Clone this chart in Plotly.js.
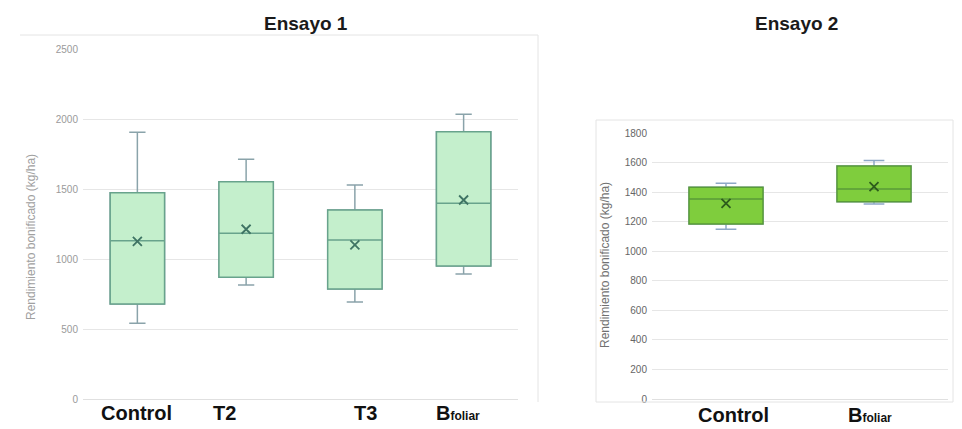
<!DOCTYPE html>
<html>
<head>
<meta charset="utf-8">
<script src="https://cdn.plot.ly/plotly-3.0.1.min.js"></script>
<style>html,body{margin:0;padding:0;background:#fff}</style>
</head>
<body>
<div id="chart" style="width:962px;height:429px"></div>
<script>
// Ensayo 1: yield statistics per treatment (kg/ha)
const cats1 = ['Control', 'T2', 'T3', 'Bfoliar'];
const labels1 = ['Control', 'T2', 'T3', 'B<span style="font-size:12px">foliar</span>'];
const min1 = [544, 818, 696, 896];
const q1_1 = [682, 873, 789, 954];
const med1 = [1134, 1187, 1139, 1401];
const q3_1 = [1477, 1556, 1354, 1913];
const max1 = [1909, 1716, 1532, 2037];
const mean1 = [1130, 1216, 1104, 1425];
const yTicks1 = [0, 500, 1000, 1500, 2000, 2500];

// Ensayo 2
const cats2 = ['Control', 'Bfoliar'];
const labels2 = ['Control', 'B<span style="font-size:12px">foliar</span>'];
const min2 = [1150, 1321];
const q1_2 = [1186, 1337];
const med2 = [1355, 1423];
const q3_2 = [1434, 1579];
const max2 = [1461, 1615];
const mean2 = [1326, 1439];
const yTicks2 = [0, 200, 400, 600, 800, 1000, 1200, 1400, 1600, 1800];

const titles = ['Ensayo 1', 'Ensayo 2'];
const yTitle = 'Rendimiento bonificado (kg/ha)';

// page geometry (pixels)
const W = 962, H = 429;
const px = v => v / W;
const py = v => 1 - v / H;
const plot1 = {x0: 83, x1: 518, y0: 49.5, y1: 399.5};
const plot2 = {x0: 652, x1: 948, y0: 133.3, y1: 399};
// horizontal nudge of each category label, in pixels
const labelNudge1 = [-1, -22, 11, -6];
const labelNudge2 = [7, -4];

const green1 = {fill: '#c4efcc', line: '#68a38c', whisker: '#8aa3aa', mean: '#3f7464'};
const green2 = {fill: '#7fcd3d', line: '#5a9b38', whisker: '#8ea8c6', mean: '#2d5c1c'};

// whiskers: full box drawn in whisker colour
function whiskerTrace(cats, lo, q1, med, q3, hi, col, xa, ya, ww) {
  return {
    type: 'box', x: cats, lowerfence: lo, q1: q1, median: med, q3: q3, upperfence: hi,
    xaxis: xa, yaxis: ya, boxpoints: false, width: 0.5, whiskerwidth: ww,
    fillcolor: col.fill, line: {color: col.whisker, width: 1.5},
    hoverinfo: 'skip', showlegend: false
  };
}
// box body on top, fences at the quartiles so only the box shows
function bodyTrace(cats, q1, med, q3, col, xa, ya) {
  return {
    type: 'box', x: cats, lowerfence: q1, q1: q1, median: med, q3: q3, upperfence: q3,
    xaxis: xa, yaxis: ya, boxpoints: false, width: 0.5, whiskerwidth: 0,
    fillcolor: col.fill, line: {color: col.line, width: 1.5},
    hoverinfo: 'skip', showlegend: false
  };
}
function meanTrace(cats, mean, col, xa, ya) {
  return {
    type: 'scatter', mode: 'markers', x: cats, y: mean, xaxis: xa, yaxis: ya,
    marker: {symbol: 'x-thin', size: 9, line: {width: 1.8, color: col.mean}, color: col.mean},
    hoverinfo: 'skip', showlegend: false
  };
}

const data = [
  whiskerTrace(cats1, min1, q1_1, med1, q3_1, max1, green1, 'x', 'y', 0.3),
  bodyTrace(cats1, q1_1, med1, q3_1, green1, 'x', 'y'),
  meanTrace(cats1, mean1, green1, 'x', 'y'),
  whiskerTrace(cats2, min2, q1_2, med2, q3_2, max2, green2, 'x2', 'y2', 0.28),
  bodyTrace(cats2, q1_2, med2, q3_2, green2, 'x2', 'y2'),
  meanTrace(cats2, mean2, green2, 'x2', 'y2')
];

function catLabels(labels, plot, nudge, yPix) {
  const n = labels.length, w = plot.x1 - plot.x0;
  return labels.map((t, i) => ({
    text: t, xref: 'paper', yref: 'paper',
    x: px(plot.x0 + (i + 0.5) * w / n + nudge[i]), y: py(yPix),
    xanchor: 'center', yanchor: 'middle', showarrow: false,
    font: {family: 'Liberation Sans, Arial, sans-serif', size: 20, color: '#111', weight: 'bold'}
  }));
}

const annotations = [
  ...catLabels(labels1, plot1, labelNudge1, 413),
  ...catLabels(labels2, plot2, labelNudge2, 415),
  {text: '<b>' + titles[0] + '</b>', xref: 'paper', yref: 'paper', x: px(306), y: py(24),
   xanchor: 'center', yanchor: 'middle', showarrow: false,
   font: {family: 'Liberation Sans, Arial, sans-serif', size: 19, color: '#1a1a1a'}},
  {text: '<b>' + titles[1] + '</b>', xref: 'paper', yref: 'paper', x: px(796), y: py(24),
   xanchor: 'center', yanchor: 'middle', showarrow: false,
   font: {family: 'Liberation Sans, Arial, sans-serif', size: 19, color: '#1a1a1a'}},
  {text: yTitle, xref: 'paper', yref: 'paper', x: px(31), y: py(237), textangle: -90,
   xanchor: 'center', yanchor: 'middle', showarrow: false,
   font: {family: 'Liberation Sans, Arial, sans-serif', size: 12, color: '#a0a0a0'}},
  {text: yTitle, xref: 'paper', yref: 'paper', x: px(605), y: py(265), textangle: -90,
   xanchor: 'center', yanchor: 'middle', showarrow: false,
   font: {family: 'Liberation Sans, Arial, sans-serif', size: 12, color: '#707070'}}
];

// light chart-area frames
const frameCol = '#e4e4e4';
const shapes = [
  {type: 'line', xref: 'paper', yref: 'paper', x0: px(20), x1: px(538), y0: py(35), y1: py(35), line: {color: frameCol, width: 1}},
  {type: 'line', xref: 'paper', yref: 'paper', x0: px(538), x1: px(538), y0: py(35), y1: py(402), line: {color: frameCol, width: 1}},
  {type: 'rect', xref: 'paper', yref: 'paper', x0: px(596), x1: px(953), y0: py(120), y1: py(402), line: {color: frameCol, width: 1}}
];

const yAxisBase = {
  showline: false, ticks: '', gridcolor: '#e6e6e6', gridwidth: 1,
  zeroline: true, zerolinecolor: '#e0e0e0', zerolinewidth: 1, fixedrange: true,
  ticklabelstandoff: 4
};

const layout = {
  width: W, height: H, autosize: false,
  margin: {l: 0, r: 0, t: 0, b: 0},
  paper_bgcolor: '#ffffff', plot_bgcolor: '#ffffff',
  showlegend: false, boxmode: 'overlay',
  xaxis: {domain: [px(plot1.x0), px(plot1.x1)], anchor: 'y', type: 'category',
          categoryarray: cats1, range: [-0.5, cats1.length - 0.5],
          showticklabels: false, showgrid: false, zeroline: false, showline: false, ticks: '', fixedrange: true},
  yaxis: Object.assign({}, yAxisBase, {
    domain: [py(plot1.y1), py(plot1.y0)], anchor: 'x',
    range: [0, 2500], tickvals: yTicks1, ticktext: yTicks1.map(String),
    tickfont: {family: 'Liberation Sans, Arial, sans-serif', size: 10, color: '#9a9a9a'}
  }),
  xaxis2: {domain: [px(plot2.x0), px(plot2.x1)], anchor: 'y2', type: 'category',
           categoryarray: cats2, range: [-0.5, cats2.length - 0.5],
           showticklabels: false, showgrid: false, zeroline: false, showline: false, ticks: '', fixedrange: true},
  yaxis2: Object.assign({}, yAxisBase, {
    domain: [py(plot2.y1), py(plot2.y0)], anchor: 'x2',
    range: [0, 1800], tickvals: yTicks2, ticktext: yTicks2.map(String),
    tickfont: {family: 'Liberation Sans, Arial, sans-serif', size: 10, color: '#666666'}
  }),
  annotations: annotations,
  shapes: shapes
};

Plotly.newPlot('chart', data, layout, {displayModeBar: false, staticPlot: true});
</script>
</body>
</html>
